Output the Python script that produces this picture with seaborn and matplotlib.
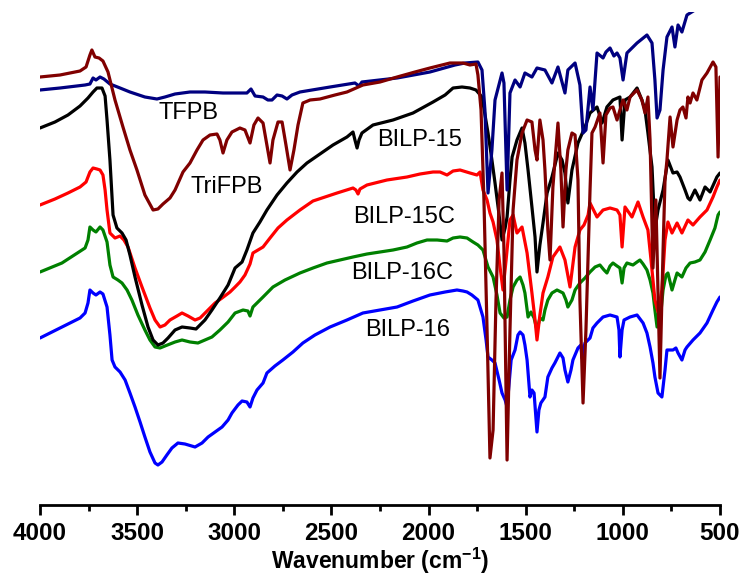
import numpy as np
import pandas as pd
import matplotlib
matplotlib.use("Agg")
import matplotlib.pyplot as plt
from matplotlib.ticker import MultipleLocator
import seaborn as sns

# FTIR spectra, wavenumber (cm-1) vs. offset transmittance (a.u.)
tfpb_wn = [4000, 3897, 3768, 3743, 3727, 3712, 3691, 3671, 3640, 3588, 3537, 3460, 3398, 3357, 3305,
           3228, 3151, 3058, 2971, 2935, 2914, 2893, 2852, 2827, 2806, 2780, 2754, 2729, 2703, 2662,
           2507, 2379, 2358, 2343, 2162, 1993, 1864, 1813, 1746, 1725, 1710, 1694, 1674, 1658, 1622,
           1612, 1596, 1581, 1555, 1529, 1504, 1468, 1442, 1401, 1365, 1334, 1298, 1283, 1246, 1221,
           1205, 1190, 1169, 1154, 1133, 1102, 1087, 1066, 1046, 1030, 1015, 999, 979, 927, 876,
           850, 835, 824, 809, 793, 773, 747, 732, 716, 696, 670, 629, 577, 500]
tfpb_t = [415, 417, 420, 421, 427, 425, 428, 426, 421, 417, 413, 408, 406, 408, 411,
          413, 413, 412, 412, 412, 416, 409, 408, 405, 405, 410, 409, 406, 410, 413,
          418, 422, 419, 423, 427, 433, 440, 442, 443, 435, 395, 312, 355, 405, 432,
          422, 315, 412, 425, 418, 432, 428, 437, 435, 422, 438, 412, 435, 442, 420,
          372, 375, 418, 395, 452, 447, 453, 457, 449, 452, 447, 425, 452, 462, 470,
          462, 425, 387, 395, 435, 468, 478, 458, 480, 473, 490, 495, 500, 505]

trifpb_wn = [4000, 3897, 3794, 3763, 3743, 3733, 3717, 3696, 3676, 3650, 3614, 3573, 3537, 3501, 3460,
             3418, 3393, 3367, 3331, 3305, 3264, 3228, 3192, 3161, 3125, 3089, 3074, 3058, 3038, 3012,
             2971, 2945, 2919, 2899, 2878, 2852, 2832, 2816, 2801, 2775, 2754, 2734, 2713, 2693, 2672,
             2647, 2610, 2559, 2482, 2420, 2338, 2250, 2162, 2070, 1993, 1890, 1823, 1787, 1756, 1746,
             1730, 1715, 1699, 1684, 1668, 1653, 1637, 1622, 1612, 1596, 1581, 1565, 1545, 1519, 1493,
             1468, 1452, 1442, 1427, 1411, 1401, 1386, 1375, 1360, 1334, 1319, 1308, 1293, 1283, 1262,
             1246, 1231, 1221, 1205, 1190, 1169, 1159, 1143, 1118, 1102, 1087, 1066, 1051, 1030, 1015,
             999, 979, 963, 927, 902, 886, 871, 860, 845, 830, 809, 793, 783, 773, 757,
             742, 721, 706, 691, 675, 665, 654, 639, 619, 593, 567, 536, 521, 510, 500]
trifpb_t = [428, 430, 434, 438, 450, 455, 448, 447, 444, 433, 405, 378, 355, 335, 310,
            295, 296, 301, 307, 315, 333, 342, 355, 365, 370, 371, 365, 352, 365, 373,
            377, 375, 362, 380, 387, 382, 360, 342, 365, 383, 383, 360, 335, 355, 380,
            402, 405, 406, 410, 413, 420, 423, 428, 433, 437, 442, 442, 440, 441, 430,
            395, 305, 175, 47, 75, 205, 305, 332, 255, 45, 175, 295, 345, 372, 385,
            383, 355, 345, 385, 365, 335, 275, 245, 318, 382, 335, 278, 335, 355, 372,
            370, 325, 205, 102, 175, 315, 372, 378, 392, 342, 390, 397, 398, 385, 395,
            405, 395, 408, 415, 405, 392, 408, 365, 237, 305, 127, 255, 325, 345, 388,
            358, 385, 395, 398, 387, 408, 402, 412, 405, 425, 432, 443, 438, 348, 428]

bilp15_wn = [4000, 3923, 3856, 3794, 3753, 3727, 3707, 3681, 3665, 3655, 3640, 3624, 3604, 3578, 3557,
             3537, 3511, 3475, 3444, 3418, 3393, 3367, 3341, 3305, 3269, 3228, 3197, 3151, 3115, 3074,
             3032, 2996, 2960, 2935, 2904, 2868, 2832, 2780, 2729, 2677, 2626, 2559, 2492, 2420, 2389,
             2379, 2368, 2358, 2343, 2286, 2183, 2080, 1977, 1915, 1874, 1828, 1787, 1756, 1725, 1694,
             1674, 1658, 1637, 1622, 1606, 1596, 1581, 1570, 1545, 1519, 1504, 1488, 1468, 1452, 1442,
             1427, 1411, 1390, 1365, 1334, 1313, 1298, 1283, 1262, 1231, 1195, 1169, 1133, 1107, 1082,
             1051, 1015, 1004, 989, 963, 927, 902, 886, 871, 850, 835, 819, 793, 768, 742,
             721, 706, 680, 665, 654, 629, 603, 577, 551, 516, 500]
bilp15_t = [377, 383, 390, 399, 407, 413, 417, 417, 409, 385, 345, 290, 277, 272, 265,
            250, 228, 200, 178, 165, 160, 162, 167, 175, 178, 177, 176, 185, 195, 207,
            220, 237, 243, 255, 272, 283, 295, 310, 322, 333, 342, 351, 360, 368, 373,
            365, 357, 365, 372, 380, 385, 392, 403, 410, 417, 418, 417, 415, 408, 372,
            345, 322, 290, 265, 277, 288, 325, 348, 365, 377, 362, 335, 298, 268, 233,
            260, 282, 312, 328, 352, 345, 332, 302, 335, 362, 378, 392, 398, 382, 398,
            405, 408, 365, 405, 408, 417, 405, 395, 372, 338, 275, 295, 315, 345, 332,
            333, 328, 315, 307, 305, 315, 305, 318, 313, 328, 332]

bilp15c_wn = [4000, 3923, 3856, 3794, 3763, 3743, 3727, 3707, 3691, 3676, 3665, 3655, 3640, 3614, 3588,
              3568, 3547, 3511, 3475, 3434, 3408, 3382, 3357, 3331, 3295, 3269, 3238, 3202, 3176, 3135,
              3099, 3063, 3022, 2996, 2971, 2945, 2919, 2904, 2878, 2852, 2816, 2775, 2729, 2662, 2595,
              2533, 2471, 2389, 2374, 2363, 2353, 2317, 2214, 2111, 2044, 1977, 1941, 1905, 1874, 1838,
              1787, 1751, 1735, 1720, 1699, 1684, 1668, 1648, 1632, 1617, 1601, 1581, 1565, 1545, 1519,
              1493, 1468, 1452, 1442, 1427, 1411, 1386, 1360, 1324, 1298, 1272, 1246, 1221, 1200, 1179,
              1169, 1133, 1102, 1066, 1030, 1015, 1004, 989, 953, 922, 896, 871, 855, 835, 819,
              799, 783, 768, 747, 721, 696, 665, 639, 603, 567, 536, 516, 500]
bilp15c_t = [300, 306, 312, 318, 323, 333, 337, 336, 335, 330, 315, 295, 272, 267, 269,
             265, 258, 237, 218, 197, 185, 178, 180, 185, 189, 192, 189, 185, 187, 195,
             202, 207, 213, 218, 223, 230, 241, 252, 255, 258, 267, 277, 285, 295, 304,
             308, 312, 317, 315, 311, 316, 320, 325, 328, 331, 333, 333, 330, 334, 335,
             332, 330, 333, 315, 305, 292, 283, 265, 238, 215, 245, 285, 290, 272, 278,
             252, 212, 185, 165, 190, 212, 228, 248, 258, 245, 218, 258, 275, 280, 290,
             302, 288, 295, 297, 295, 290, 258, 298, 288, 303, 288, 275, 245, 205, 193,
             215, 265, 283, 272, 282, 272, 285, 280, 288, 295, 308, 318, 325]

bilp16c_wn = [4000, 3887, 3768, 3753, 3743, 3727, 3712, 3691, 3676, 3655, 3640, 3624, 3599, 3578, 3552,
              3527, 3496, 3460, 3434, 3408, 3382, 3357, 3305, 3269, 3228, 3187, 3151, 3115, 3074, 3032,
              2996, 2955, 2930, 2919, 2904, 2878, 2852, 2801, 2739, 2662, 2595, 2523, 2456, 2389, 2317,
              2250, 2183, 2111, 2060, 2008, 1956, 1905, 1874, 1838, 1802, 1771, 1746, 1720, 1694, 1668,
              1648, 1632, 1612, 1596, 1581, 1565, 1545, 1529, 1514, 1504, 1488, 1473, 1457, 1442, 1427,
              1411, 1401, 1386, 1365, 1339, 1308, 1293, 1283, 1262, 1246, 1221, 1195, 1169, 1143, 1118,
              1097, 1082, 1066, 1051, 1030, 1015, 1004, 994, 979, 948, 927, 912, 896, 876, 860,
              845, 835, 824, 809, 793, 778, 768, 747, 732, 721, 696, 675, 654, 629, 603,
              577, 551, 526, 510, 500]
bilp16c_t = [233, 242, 257, 265, 278, 275, 273, 278, 275, 263, 240, 228, 225, 222, 215,
             205, 190, 175, 165, 158, 157, 159, 163, 165, 163, 162, 165, 168, 175, 183,
             192, 195, 194, 189, 198, 203, 208, 218, 225, 232, 237, 242, 245, 248, 251,
             253, 255, 258, 262, 265, 265, 264, 267, 268, 267, 263, 260, 255, 238, 228,
             210, 192, 187, 188, 205, 218, 225, 228, 220, 212, 188, 193, 187, 175, 187,
             185, 195, 205, 212, 215, 212, 205, 198, 205, 215, 222, 227, 233, 238, 240,
             235, 232, 239, 242, 239, 237, 222, 237, 242, 240, 243, 245, 241, 235, 225,
             212, 195, 178, 183, 215, 230, 232, 215, 225, 232, 228, 237, 242, 243, 245,
             253, 265, 277, 290, 293]

bilp16_wn = [4000, 3887, 3794, 3768, 3753, 3743, 3727, 3712, 3691, 3676, 3655, 3640, 3629, 3614, 3588,
             3562, 3537, 3511, 3485, 3460, 3434, 3408, 3393, 3372, 3347, 3321, 3290, 3254, 3202, 3166,
             3135, 3099, 3063, 3032, 3012, 2981, 2960, 2935, 2919, 2904, 2883, 2852, 2832, 2791, 2750,
             2698, 2647, 2585, 2507, 2420, 2338, 2250, 2162, 2080, 1993, 1915, 1854, 1823, 1802, 1777,
             1746, 1720, 1704, 1694, 1674, 1658, 1637, 1622, 1606, 1596, 1586, 1575, 1555, 1540, 1529,
             1514, 1504, 1493, 1478, 1468, 1457, 1442, 1432, 1422, 1401, 1386, 1365, 1350, 1324, 1308,
             1298, 1283, 1267, 1257, 1231, 1216, 1210, 1195, 1169, 1154, 1133, 1102, 1066, 1030, 1020,
             1015, 1004, 994, 963, 927, 896, 876, 860, 845, 835, 819, 799, 783, 773, 757,
             742, 727, 716, 696, 680, 670, 639, 603, 567, 536, 516, 500]
bilp16_t = [167, 178, 187, 192, 202, 215, 212, 210, 213, 211, 198, 170, 145, 138, 133,
            125, 112, 98, 83, 68, 53, 42, 40, 43, 50, 57, 62, 61, 58, 62,
            68, 73, 78, 85, 92, 100, 104, 103, 98, 107, 115, 122, 132, 139, 145,
            153, 162, 170, 178, 185, 192, 195, 198, 204, 210, 213, 215, 214, 213, 210,
            205, 188, 165, 148, 145, 142, 125, 112, 105, 98, 120, 145, 155, 170, 173,
            170, 160, 145, 108, 115, 112, 73, 95, 102, 108, 128, 137, 142, 152, 147,
            135, 123, 135, 145, 157, 160, 147, 162, 167, 177, 182, 188, 190, 188, 175,
            148, 175, 185, 188, 190, 182, 172, 158, 142, 128, 112, 108, 135, 155, 155,
            155, 157, 152, 145, 155, 158, 165, 172, 182, 195, 203, 208]

series = [
    ("BILP-16", bilp16_wn, bilp16_t, "#0000ff"),
    ("BILP-16C", bilp16c_wn, bilp16c_t, "#008000"),
    ("BILP-15C", bilp15c_wn, bilp15c_t, "#ff0000"),
    ("BILP-15", bilp15_wn, bilp15_t, "#000000"),
    ("TFPB", tfpb_wn, tfpb_t, "#000080"),
    ("TriFPB", trifpb_wn, trifpb_t, "#800000"),
]

# label text and where it sits (wavenumber, a.u.)
labels = ["TFPB", "TriFPB", "BILP-15", "BILP-15C", "BILP-16C", "BILP-16"]
label_wn = [3238, 3037, 2044, 2126, 2137, 2106]
label_t = [392, 318, 365, 288, 232, 175]

sns.set_style("white")
plt.rcParams['font.family'] = ['Liberation Sans', 'DejaVu Sans']
plt.rcParams['text.color'] = 'black'
plt.rcParams['xtick.color'] = 'black'
plt.rcParams['axes.labelcolor'] = 'black'
plt.rcParams['mathtext.fontset'] = 'custom'
plt.rcParams['mathtext.bf'] = 'Liberation Sans:bold'
plt.rcParams['mathtext.rm'] = 'Liberation Sans:bold'
plt.rcParams['mathtext.default'] = 'bf'

fig = plt.figure(figsize=(7.49, 5.75), dpi=100)
ax = fig.add_axes([40 / 749, 70 / 575, 680 / 749, 493 / 575])

for name, wn, t, col in series:
    df = pd.DataFrame({"wn": wn, "t": t})
    sns.lineplot(data=df, x="wn", y="t", sort=False, estimator=None,
                 color=col, lw=2.3, ax=ax)

for lab, x, y in zip(labels, label_wn, label_t):
    ax.text(x, y, lab, ha="center", va="center", fontsize=17, color="black")

ax.set_xlim(4000, 500)
ax.set_ylim(0, 493)
ax.xaxis.set_major_locator(MultipleLocator(500))
ax.xaxis.set_minor_locator(MultipleLocator(250))
ax.set_yticks([])
ax.set_ylabel("")
for s in ["left", "right", "top"]:
    ax.spines[s].set_visible(False)
ax.spines["bottom"].set_linewidth(2.0)
ax.spines["bottom"].set_color("black")
ax.tick_params(axis="x", which="major", direction="out", length=7.5, width=2.0,
               bottom=True, pad=5, labelsize=17.5, colors="black")
ax.tick_params(axis="x", which="minor", direction="out", length=4.5, width=2.0, bottom=True)
for lbl in ax.get_xticklabels():
    lbl.set_fontweight("bold")
ax.set_xlabel(r"Wavenumber (cm$^{-1}$)", fontsize=16.5, fontweight="bold", labelpad=0)

fig.savefig("out.png", dpi=100)
